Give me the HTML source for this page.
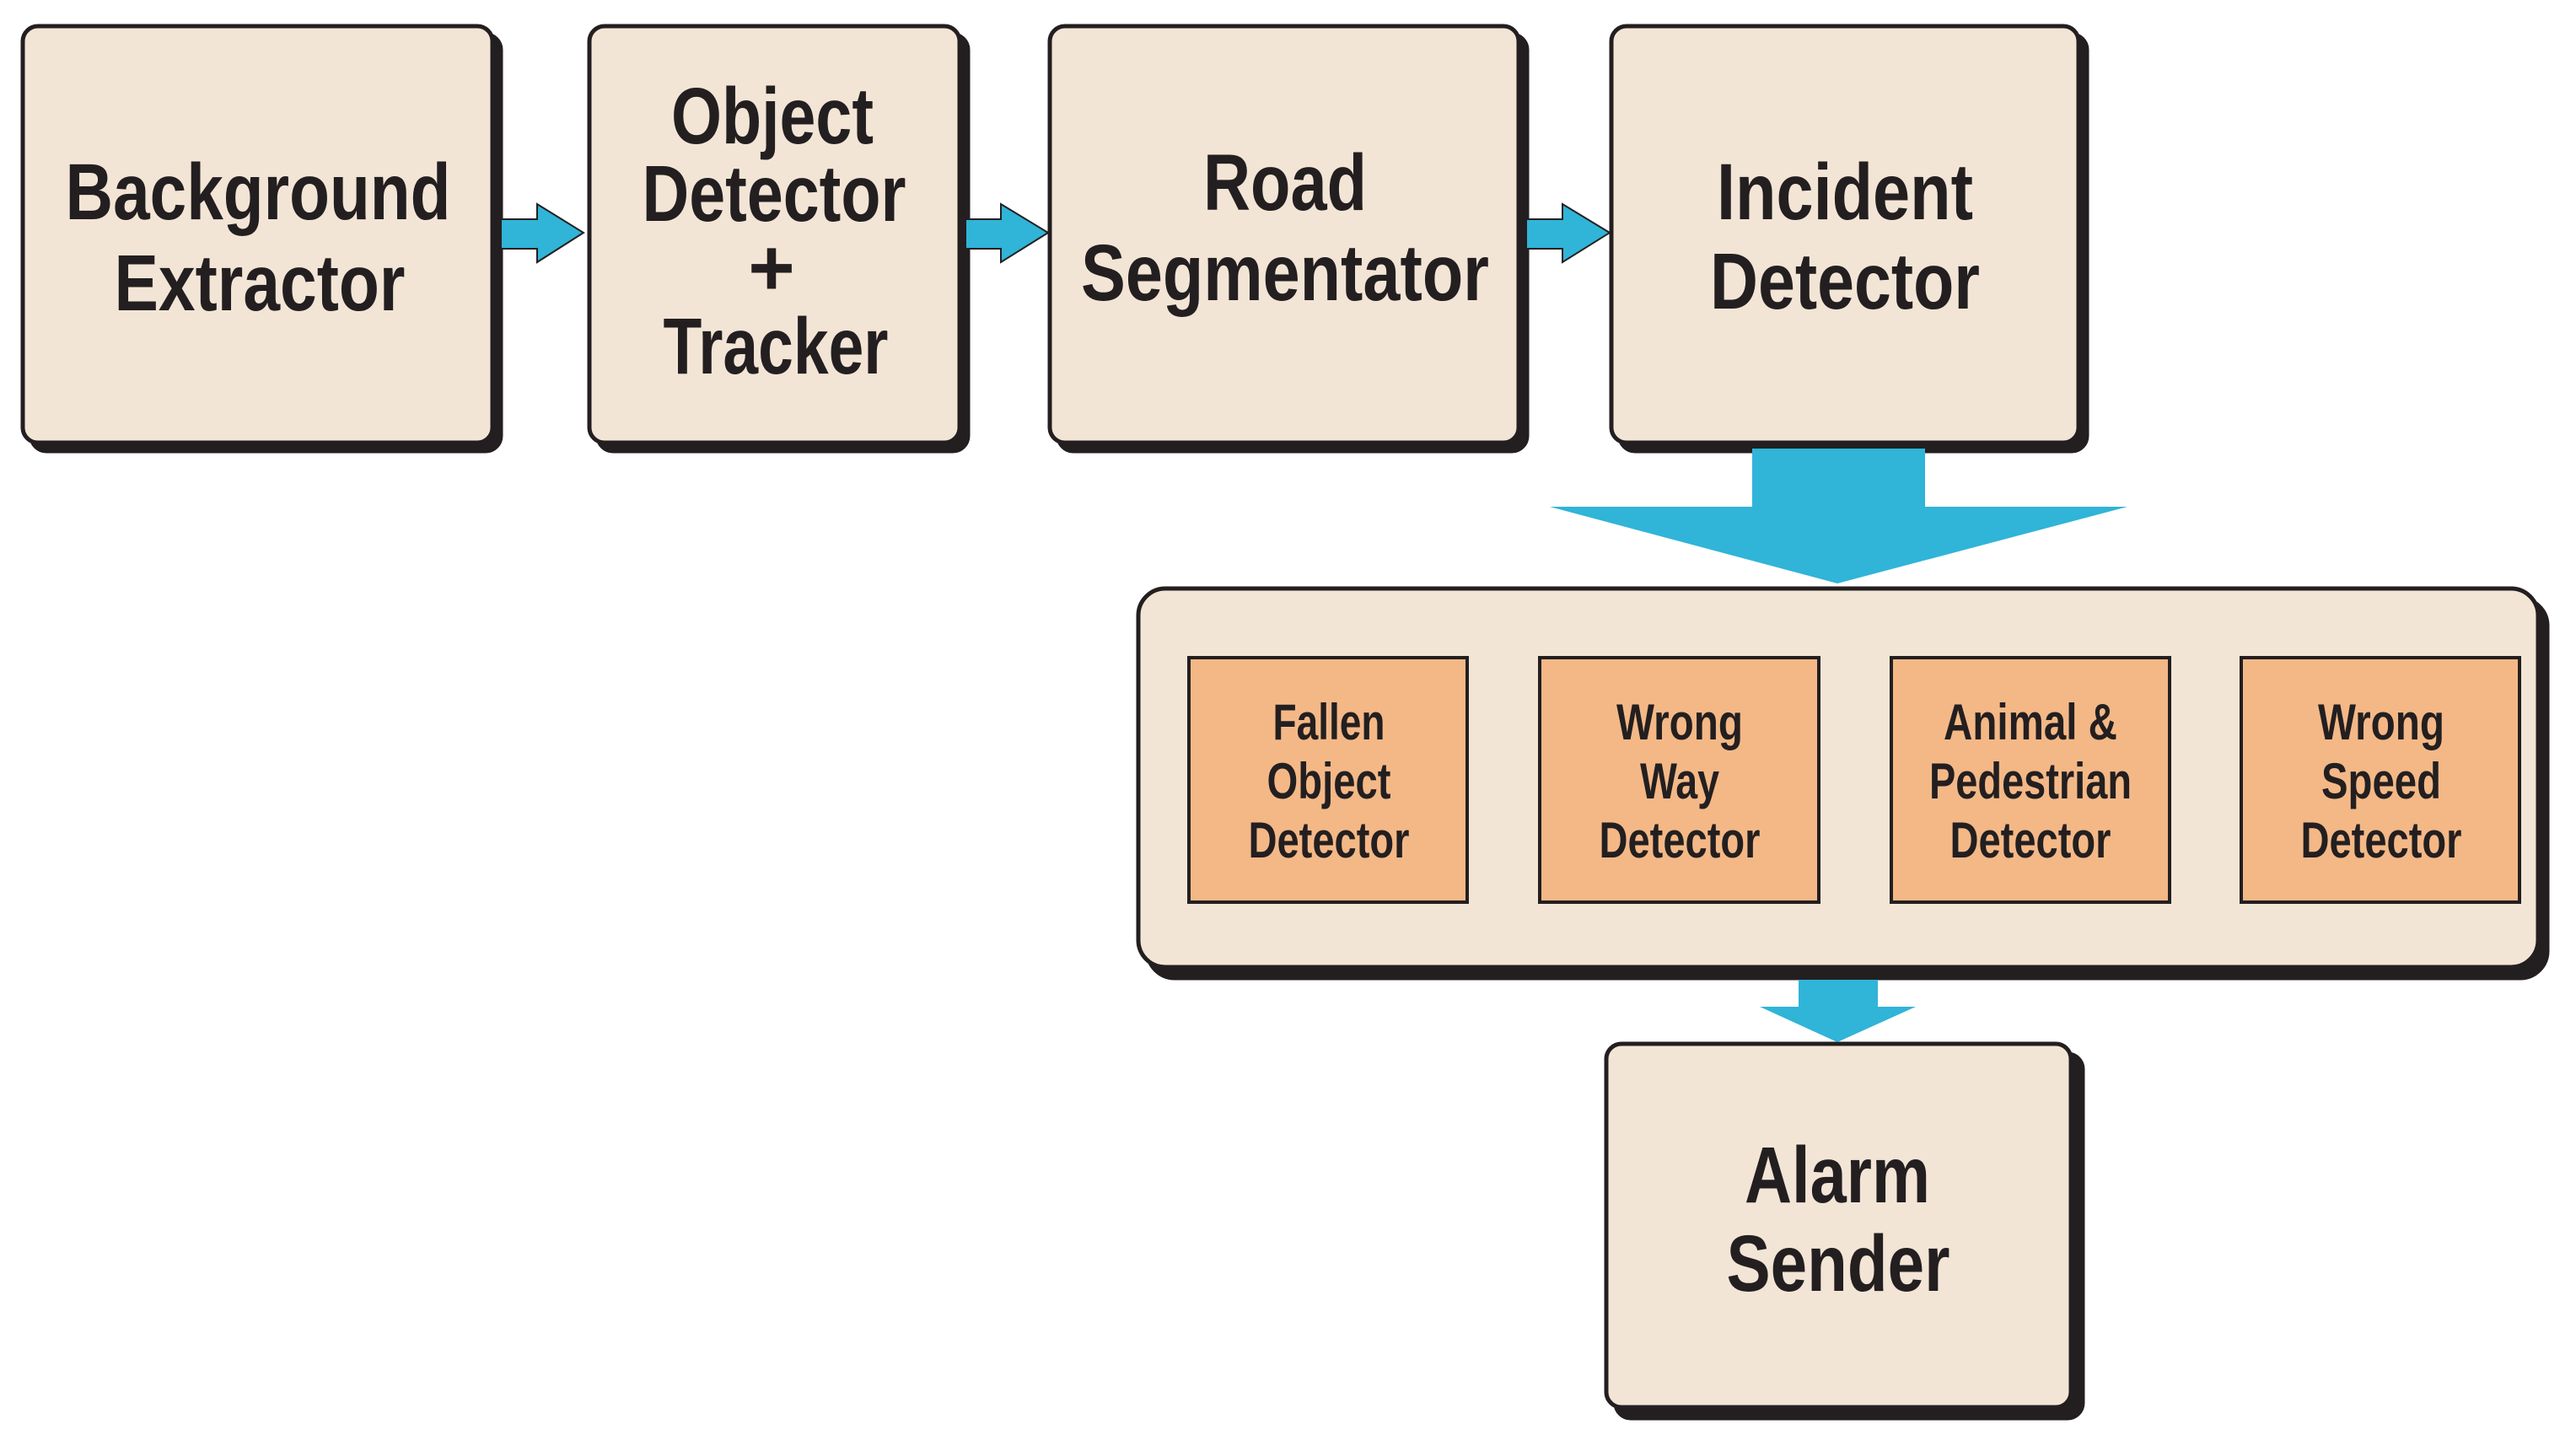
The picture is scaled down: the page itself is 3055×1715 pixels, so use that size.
<!DOCTYPE html>
<html><head><meta charset="utf-8"><style>html,body{margin:0;padding:0;background:#fff}svg{display:block}</style></head><body>
<svg width="3055" height="1715" viewBox="0 0 3055 1715" xmlns="http://www.w3.org/2000/svg" font-family="Liberation Sans, Arial, sans-serif" font-weight="bold" fill="#231f20">
<g stroke="#231f20" stroke-width="5">
<!-- shadows -->
<g fill="#231f20">
<rect x="37" y="41" width="557" height="494" rx="18"/>
<rect x="709" y="41" width="439" height="494" rx="18"/>
<rect x="1255" y="41" width="556" height="494" rx="18"/>
<rect x="1921" y="41" width="554" height="494" rx="18"/>
<rect x="1361" y="710" width="1660" height="450" rx="32"/>
<rect x="1916" y="1250" width="554" height="432" rx="18"/>
</g>
<g fill="#f3e5d6">
<rect x="27" y="31" width="557" height="494" rx="18"/>
<rect x="699" y="31" width="439" height="494" rx="18"/>
<rect x="1245" y="31" width="556" height="494" rx="18"/>
<rect x="1911" y="31" width="554" height="494" rx="18"/>
<rect x="1350" y="698" width="1660" height="449" rx="32"/>
<rect x="1905" y="1238" width="551" height="431" rx="18"/>
</g>
<g fill="#f4b887" stroke-width="4">
<rect x="1410" y="780" width="330" height="290"/>
<rect x="1826" y="780" width="331" height="290"/>
<rect x="2243" y="780" width="330" height="290"/>
<rect x="2658" y="780" width="330" height="290"/>
</g>
</g>
<g fill="#30b4d8" stroke="#231f20" stroke-width="2">
<polygon points="594,260 637,260 637,242 692,276 637,311 637,295 594,295"/>
<polygon points="1145,260 1187,260 1187,242 1243,276 1187,311 1187,295 1145,295"/>
<polygon points="1810,260 1853,260 1853,242 1909,276 1853,311 1853,295 1810,295"/>
<polygon points="2078,532 2283,532 2283,601 2523,601 2179,692 1838,601 2078,601" stroke="none"/>
<polygon points="2133,1162 2227,1162 2227,1194 2272,1194 2179,1236 2087,1194 2133,1194" stroke="none"/>
</g>
<g text-anchor="middle" font-size="95">
<text x="306" y="260" textLength="457" lengthAdjust="spacingAndGlyphs">Background</text>
<text x="308" y="368" textLength="345" lengthAdjust="spacingAndGlyphs">Extractor</text>
<text x="916" y="170" textLength="240" lengthAdjust="spacingAndGlyphs">Object</text>
<text x="918" y="262" textLength="313" lengthAdjust="spacingAndGlyphs">Detector</text>
<text x="915" y="350">+</text>
<text x="920" y="443" textLength="267" lengthAdjust="spacingAndGlyphs">Tracker</text>
<text x="1524" y="249" textLength="194" lengthAdjust="spacingAndGlyphs">Road</text>
<text x="1524" y="356" textLength="484" lengthAdjust="spacingAndGlyphs">Segmentator</text>
<text x="2188" y="260" textLength="304" lengthAdjust="spacingAndGlyphs">Incident</text>
<text x="2188" y="366" textLength="320" lengthAdjust="spacingAndGlyphs">Detector</text>
<text x="2179" y="1426" textLength="220" lengthAdjust="spacingAndGlyphs">Alarm</text>
<text x="2180" y="1531" textLength="265" lengthAdjust="spacingAndGlyphs">Sender</text>
</g>
<g text-anchor="middle" font-size="60">
<text x="1576" y="877" textLength="133" lengthAdjust="spacingAndGlyphs">Fallen</text>
<text x="1576" y="947" textLength="147" lengthAdjust="spacingAndGlyphs">Object</text>
<text x="1576" y="1017" textLength="191" lengthAdjust="spacingAndGlyphs">Detector</text>
<text x="1992" y="877" textLength="150" lengthAdjust="spacingAndGlyphs">Wrong</text>
<text x="1992" y="947" textLength="94" lengthAdjust="spacingAndGlyphs">Way</text>
<text x="1992" y="1017" textLength="191" lengthAdjust="spacingAndGlyphs">Detector</text>
<text x="2408" y="877" textLength="206" lengthAdjust="spacingAndGlyphs">Animal &amp;</text>
<text x="2408" y="947" textLength="240" lengthAdjust="spacingAndGlyphs">Pedestrian</text>
<text x="2408" y="1017" textLength="191" lengthAdjust="spacingAndGlyphs">Detector</text>
<text x="2824" y="877" textLength="150" lengthAdjust="spacingAndGlyphs">Wrong</text>
<text x="2824" y="947" textLength="142" lengthAdjust="spacingAndGlyphs">Speed</text>
<text x="2824" y="1017" textLength="191" lengthAdjust="spacingAndGlyphs">Detector</text>
</g>
</svg>
</body></html>
